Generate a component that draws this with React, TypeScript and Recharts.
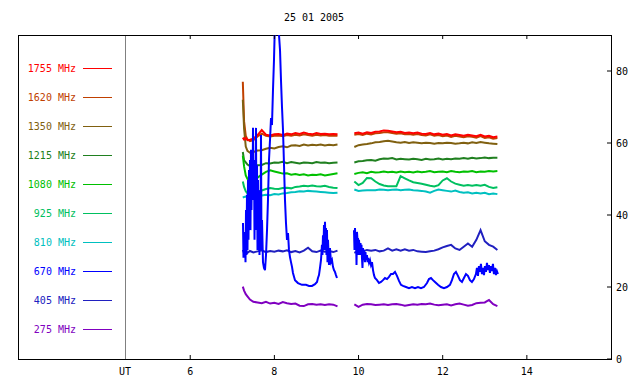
import React from "react";
import { LineChart, Line, XAxis, YAxis } from "recharts";

const FONT = "'DejaVu Sans Mono', monospace";

const title = "25 01 2005";
const hourStart = 4.45;
const hourEnd = 16;
const hourTicks = [6, 8, 10, 12, 14];
const fluxTicks = [0, 20, 40, 60, 80];

// sampling hours shared by the smoother channels (9.7 = data gap)
const hours = [
  7.25, 7.28, 7.32, 7.36, 7.42, 7.5, 7.6, 7.7, 7.8, 7.9,
  8.0, 8.1, 8.2, 8.3, 8.4, 8.5, 8.6, 8.7, 8.8, 8.9,
  9.0, 9.1, 9.2, 9.3, 9.4, 9.5, 9.7, 9.9, 10.0, 10.1,
  10.2, 10.3, 10.4, 10.5, 10.6, 10.7, 10.8, 10.9, 11.0, 11.1,
  11.2, 11.3, 11.4, 11.5, 11.6, 11.7, 11.8, 11.9, 12.0, 12.1,
  12.2, 12.3, 12.4, 12.5, 12.6, 12.7, 12.8, 12.9, 13.0, 13.1,
  13.2, 13.3,
];

const s1755 = [
  61.5, 61.0, 61.4, 60.8, 60.9, 61.2, 62.2, 63.6, 62.3, 62.1,
  62.4, 62.5, 62.2, 62.6, 62.4, 62.8, 62.5, 62.9, 62.6, 62.4,
  62.8, 62.5, 62.6, 62.4, 62.5, 62.4, null, 62.7, 62.9, 62.6,
  63.0, 62.8, 63.1, 63.2, 63.5, 63.4, 63.2, 63.0, 63.1, 62.8,
  62.9, 62.7, 62.9, 62.6, 62.5, 62.8, 62.4, 62.6, 62.3, 62.5,
  62.1, 62.4, 62.2, 62.0, 62.3, 62.1, 61.9, 62.3, 61.8, 62.0,
  61.6, 61.8,
];

const s1620 = [
  77.0, 66.0, 62.0, 61.0, 60.5, 60.8, 61.8, 62.6, 62.0, 61.8,
  62.0, 62.1, 61.9, 62.2, 62.0, 62.3, 62.1, 62.4, 62.2, 62.0,
  62.3, 62.1, 62.2, 62.0, 62.1, 62.0, null, 62.3, 62.5, 62.2,
  62.6, 62.4, 62.7, 62.8, 63.0, 63.0, 62.8, 62.6, 62.7, 62.4,
  62.5, 62.3, 62.5, 62.2, 62.1, 62.4, 62.0, 62.2, 61.9, 62.1,
  61.7, 62.0, 61.8, 61.6, 61.9, 61.7, 61.5, 61.9, 61.4, 61.6,
  61.2, 61.4,
];

const s1350 = [
  72.0, 64.0, 59.0, 57.8, 57.3, 57.5, 57.9, 58.0, 58.4, 58.7,
  58.5, 58.9, 59.1, 58.8, 59.3, 59.4, 59.2, 59.6, 59.3, 59.5,
  59.4, 59.6, 59.3, 59.5, 59.4, 59.6, null, 58.9, 59.4, 59.6,
  59.7, 59.9, 60.2, 60.3, 60.5, 60.6, 60.4, 60.2, 60.1, 60.3,
  60.0, 60.2, 60.1, 59.9, 60.1, 60.0, 59.8, 60.0, 59.9, 60.1,
  60.0, 59.8, 59.9, 60.1, 59.9, 60.2, 60.0, 60.3, 60.1, 59.9,
  59.8, 59.7,
];

const s1215 = [
  57.5, 55.2, 54.6, 54.0, 53.6, 53.3, 53.8, 53.9, 54.4, 54.3,
  54.6, 54.5, 54.8, 54.4, 54.7, 54.5, 54.3, 54.6, 54.5, 54.4,
  54.7, 54.5, 54.6, 54.4, 54.5, 54.6, null, 54.6, 54.9, 55.0,
  55.2, 55.3, 55.1, 55.5, 55.7, 55.6, 55.8, 55.4, 55.6, 55.5,
  55.4, 55.6, 55.5, 55.3, 55.6, 55.4, 55.5, 55.7, 55.4, 55.6,
  55.5, 55.7, 55.6, 55.8, 55.6, 55.9, 55.7, 55.8, 56.0, 55.8,
  55.9, 55.9,
];

const s1080 = [
  56.5, 53.5, 51.0, 50.0, 49.3, 49.6, 50.4, 51.2, 52.0, 52.4,
  52.1, 51.8, 51.5, 51.6, 51.2, 51.4, 51.1, 51.3, 51.0, 51.2,
  51.1, 51.3, 51.0, 51.2, 51.4, 51.6, null, 51.4, 51.7, 51.9,
  51.6, 52.0, 51.8, 51.9, 52.1, 51.9, 52.0, 51.8, 52.1, 51.9,
  52.0, 51.8, 52.1, 51.9, 52.0, 52.2, 51.9, 52.0, 52.1, 51.9,
  52.2, 52.0, 51.9, 52.1, 52.0, 52.2, 51.9, 52.1, 52.0, 52.2,
  52.1, 52.2,
];

const s925 = [
  49.3, 47.8, 46.6, 46.0, 45.8, 46.0, 46.4, 46.8, 47.2, 47.5,
  47.3, 47.2, 47.5, 47.6, 47.4, 47.8, 47.9, 48.1, 48.0, 48.2,
  48.0, 47.9, 48.1, 47.8, 47.6, 47.5, null, 49.3, 48.3, 48.9,
  50.3, 50.2, 49.3, 48.6, 48.2, 48.0, 48.0, 48.0, 50.8, 50.2,
  49.6, 49.1, 48.9, 48.7, 48.4, 48.1, 47.9, 48.3, 49.6, 50.2,
  49.3, 48.7, 48.4, 48.1, 48.3, 48.1, 48.3, 48.1, 48.4, 47.8,
  47.5, 47.7,
];

const s810 = [
  44.8, 45.0, 45.1, 44.9, 45.1, 45.3, 45.2, 45.4, 45.6, 45.5,
  45.8, 45.7, 46.0, 46.1, 46.3, 46.4, 46.6, 46.5, 46.7, 46.6,
  46.5, 46.4, 46.3, 46.2, 46.1, 46.2, null, 47.1, 46.7, 46.8,
  46.9, 46.9, 46.9, 47.1, 47.0, 46.9, 47.0, 47.1, 46.9, 47.0,
  47.1, 46.9, 46.8, 46.7, 46.5, 46.2, 46.7, 47.1, 46.9, 46.7,
  46.5, 46.8, 46.4, 46.2, 46.3, 46.0, 46.2, 46.0, 46.2, 45.8,
  46.0, 45.8,
];

const s405 = [
  30.3, 29.4, 30.1, 29.5, 30.0, 29.6, 29.9, 30.2, 29.7, 30.0,
  29.8, 30.1, 29.9, 30.2, 29.7, 30.0, 29.6, 30.1, 30.9, 29.9,
  29.7, 30.1, 29.8, 30.0, 29.7, 30.1, null, 29.5, 30.1, 29.9,
  30.3, 30.1, 30.3, 29.9, 30.1, 30.7, 30.1, 30.5, 30.1, 30.5,
  30.1, 30.3, 29.9, 29.8, 29.7, 29.9, 30.1, 30.5, 31.0, 31.4,
  31.7, 30.7, 30.3, 31.2, 32.1, 31.2, 33.1, 35.8, 32.7, 31.7,
  31.2, 30.3,
];

const s275 = [
  20.1, 19.0, 18.0, 17.4, 16.5, 15.9, 15.7, 15.5, 15.9, 15.4,
  15.6, 15.3, 15.8, 15.5, 15.3, 15.4, 14.8, 14.7, 15.2, 15.3,
  15.1, 15.2, 15.0, 15.2, 15.1, 14.6, null, 15.2, 14.5, 15.1,
  15.3, 15.2, 15.0, 15.1, 15.2, 15.0, 15.2, 15.3, 15.1, 14.8,
  15.0, 15.2, 15.1, 15.3, 15.2, 15.4, 15.1, 14.9, 15.1, 15.2,
  14.9, 15.2, 15.4, 15.1, 14.8, 15.0, 15.5, 15.6, 15.7, 16.4,
  15.2, 14.7,
];

// 670 MHz is the bursty channel, sampled more densely
const hours670 = [
  7.254, 7.266, 7.278, 7.290, 7.302, 7.314, 7.326, 7.337, 7.349, 7.361,
  7.373, 7.385, 7.397, 7.409, 7.421, 7.432, 7.444, 7.456, 7.468, 7.480,
  7.492, 7.504, 7.516, 7.528, 7.539, 7.551, 7.563, 7.575, 7.587, 7.599,
  7.611, 7.623, 7.634, 7.646, 7.658, 7.670, 7.682, 7.694, 7.706, 7.729,
  7.753, 7.777, 7.801, 7.825, 7.848, 7.872, 7.896, 7.920, 7.943, 7.967,
  7.991, 8.015, 8.039, 8.062, 8.086, 8.110, 8.134, 8.157, 8.181, 8.205,
  8.229, 8.252, 8.276, 8.300, 8.324, 8.347, 8.371, 8.395, 8.419, 8.442,
  8.490, 8.561, 8.656, 8.751, 8.823, 8.894, 8.965, 9.013, 9.036, 9.060,
  9.084, 9.108, 9.131, 9.143, 9.155, 9.167, 9.179, 9.191, 9.203, 9.215,
  9.226, 9.238, 9.250, 9.262, 9.274, 9.298, 9.321, 9.345, 9.369, 9.393,
  9.416, 9.440, 9.464, 9.488, 9.7,
  9.892, 9.904, 9.916, 9.928, 9.940, 9.952, 9.963, 9.975, 9.987, 9.999,
  10.011, 10.035, 10.047, 10.058, 10.070, 10.082, 10.094, 10.106, 10.118, 10.130,
  10.153, 10.165, 10.177, 10.201, 10.213, 10.225, 10.249, 10.272, 10.296, 10.320,
  10.344, 10.368, 10.391, 10.439, 10.486, 10.534, 10.581, 10.629, 10.677, 10.724,
  10.772, 10.819, 10.867, 10.914, 10.962, 11.009, 11.057, 11.128, 11.199, 11.270,
  11.342, 11.413, 11.484, 11.555, 11.627, 11.674, 11.722, 11.769, 11.817, 11.888,
  11.959, 12.030, 12.102, 12.173, 12.220, 12.268, 12.315, 12.363, 12.410, 12.458,
  12.505, 12.553, 12.600, 12.648, 12.695, 12.743, 12.790, 12.814, 12.838, 12.862,
  12.886, 12.909, 12.933, 12.957, 12.981, 13.004, 13.028, 13.052, 13.076, 13.099,
  13.123, 13.147, 13.171, 13.194, 13.218, 13.242, 13.266, 13.289, 13.313,
];

const s670 = [
  37.8, 28.1, 35.3, 28.9, 33.1, 26.9, 41.4, 28.9, 45.6, 30.3,
  49.7, 33.1, 52.5, 37.2, 55.3, 35.8, 58.1, 41.4, 56.7, 44.2,
  64.2, 46.9, 55.3, 33.1, 51.1, 41.4, 64.2, 35.8, 53.9, 30.3,
  49.7, 33.1, 44.2, 28.9, 46.9, 31.7, 62.2, 30.3, 38.6, 26.9,
  25.3, 24.7, 28.9, 35.8, 44.2, 55.3, 60.8, 66.9, 65.0, 74.7,
  83.1, 94.2, 96.9, 98.3, 95.6, 90.0, 85.8, 77.5, 70.0, 63.6,
  53.9, 44.2, 37.8, 33.1, 35.0, 30.3, 28.3, 26.9, 25.6, 23.9,
  21.9, 21.1, 20.6, 20.6, 20.3, 20.3, 20.8, 21.4, 22.5, 23.3,
  25.3, 27.5, 31.7, 28.9, 34.4, 30.3, 37.2, 31.7, 38.1, 30.3,
  36.4, 28.9, 35.8, 26.9, 33.1, 26.1, 30.8, 26.9, 27.5, 25.6,
  24.7, 24.2, 23.3, 22.5, null,
  35.8, 30.3, 36.4, 31.7, 34.4, 26.1, 35.3, 33.1, 33.6, 28.9,
  33.1, 28.9, 32.2, 29.7, 31.7, 28.1, 25.3, 30.8, 27.5, 30.3,
  26.9, 29.7, 27.5, 28.9, 26.9, 28.1, 26.7, 27.5, 26.1, 26.9,
  24.7, 23.3, 22.5, 21.9, 21.1, 21.4, 21.9, 22.5, 22.2, 22.8,
  23.6, 23.6, 24.2, 23.1, 21.7, 20.6, 20.3, 20.0, 19.7, 20.0,
  19.7, 20.0, 19.7, 20.0, 21.1, 22.2, 22.5, 21.9, 21.4, 20.6,
  20.0, 19.7, 20.0, 20.6, 21.9, 23.6, 24.2, 23.1, 21.9, 21.4,
  22.5, 23.6, 23.1, 21.9, 21.4, 22.2, 23.6, 25.3, 23.1, 25.8,
  24.2, 26.4, 23.6, 25.3, 23.3, 25.8, 24.2, 26.7, 24.7, 26.1,
  23.9, 25.8, 24.4, 26.4, 23.6, 25.3, 23.3, 24.4, 23.6,
];

const series = [
  { name: "1755 MHz", color: "#ff0000", hours, values: s1755 },
  { name: "1620 MHz", color: "#c04000", hours, values: s1620 },
  { name: "1350 MHz", color: "#806010", hours, values: s1350 },
  { name: "1215 MHz", color: "#208020", hours, values: s1215 },
  { name: "1080 MHz", color: "#00c000", hours, values: s1080 },
  { name: "925 MHz", color: "#00c060", hours, values: s925 },
  { name: "810 MHz", color: "#00c0c0", hours, values: s810 },
  { name: "670 MHz", color: "#0000ff", hours: hours670, values: s670 },
  { name: "405 MHz", color: "#2020c0", hours, values: s405 },
  { name: "275 MHz", color: "#8000c0", hours, values: s275 },
];

// paint order: red over 1620, burst channel on top of everything
const drawOrder = [
  "1620 MHz", "1350 MHz", "1215 MHz", "1080 MHz", "925 MHz",
  "810 MHz", "405 MHz", "275 MHz", "1755 MHz", "670 MHz",
];

// tick lines point into the plot (negative tickSize), labels drawn here
const BottomTick = (props: any) => {
  const { x, y, payload } = props;
  return (
    <text x={x} y={y + 20} textAnchor="middle" fontSize={10} fontFamily={FONT} fill="#000">
      {payload.value}
    </text>
  );
};

const RightTick = (props: any) => {
  const { x, y, payload } = props;
  return (
    <text x={x + 9} y={y + 4} textAnchor="start" fontSize={10} fontFamily={FONT} fill="#000">
      {payload.value}
    </text>
  );
};

const NoLabel = () => <g />;

const App = () => {
  const byName: Record<string, (typeof series)[number]> = {};
  series.forEach((s) => (byName[s.name] = s));

  return (
    <div style={{ position: "absolute", left: 0, top: 0, width: 640, height: 384, background: "#fff" }}>
      <svg width={640} height={384} style={{ position: "absolute", left: 0, top: 0 }}>
        <text x={314} y={21} textAnchor="middle" fontSize={10} fontFamily={FONT} fill="#000">
          {title}
        </text>
        <rect x={18.5} y={35.5} width={593} height={324} fill="none" stroke="#000" />
        <line x1={125.5} y1={36} x2={125.5} y2={359} stroke="#808080" />
        <text x={125} y={375} textAnchor="middle" fontSize={10} fontFamily={FONT} fill="#000">
          UT
        </text>
        {series.map((s, i) => {
          const cy = 68 + i * 29;
          return (
            <g key={s.name}>
              <text x={76} y={cy + 4} textAnchor="end" fontSize={10} fontFamily={FONT} fill={s.color}>
                {s.name}
              </text>
              <line x1={83} y1={cy + 0.5} x2={112} y2={cy + 0.5} stroke={s.color} />
            </g>
          );
        })}
      </svg>
      <div style={{ position: "absolute", left: 0, top: 0 }}>
        <LineChart width={640} height={384} margin={{ top: 5, right: 0, bottom: 0, left: 125 }}>
          <XAxis
            xAxisId={0}
            type="number"
            dataKey="h"
            domain={[hourStart, hourEnd]}
            ticks={hourTicks}
            interval={0}
            allowDataOverflow
            height={25}
            axisLine={false}
            stroke="#000"
            tickLine={{ stroke: "#000" }}
            tickSize={-4}
            tickMargin={0}
            tick={BottomTick}
          />
          <XAxis
            xAxisId="top"
            orientation="top"
            type="number"
            dataKey="h"
            domain={[hourStart, hourEnd]}
            ticks={hourTicks}
            interval={0}
            allowDataOverflow
            height={30}
            axisLine={false}
            stroke="#000"
            tickLine={{ stroke: "#000" }}
            tickSize={-4}
            tickMargin={0}
            tick={NoLabel}
          />
          <YAxis
            orientation="right"
            type="number"
            domain={[0, 90]}
            ticks={fluxTicks}
            interval={0}
            allowDataOverflow
            width={29}
            axisLine={false}
            stroke="#000"
            tickLine={{ stroke: "#000" }}
            tickSize={-4}
            tickMargin={0}
            tick={RightTick}
          />
          {drawOrder.map((name) => {
            const s = byName[name];
            const rows = s.values.map((v, i) => ({ h: s.hours[i], v }));
            return (
              <Line
                key={name}
                xAxisId={name === "275 MHz" ? "top" : 0}
                data={rows}
                dataKey="v"
                type="linear"
                stroke={s.color}
                strokeWidth={2}
                dot={false}
                activeDot={false}
                isAnimationActive={false}
              />
            );
          })}
        </LineChart>
      </div>
    </div>
  );
};

export default App;
